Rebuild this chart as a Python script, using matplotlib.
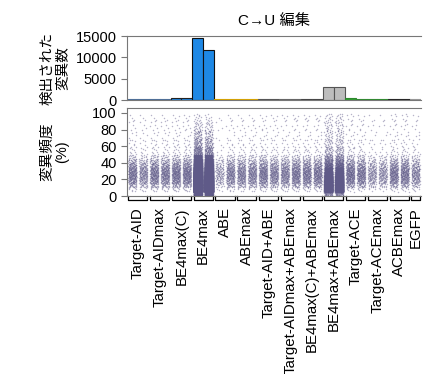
import numpy as np
import matplotlib
matplotlib.use("Agg")
import matplotlib.pyplot as plt

plt.rcParams['font.family'] = ['Liberation Sans', 'Noto Sans CJK JP', 'DejaVu Sans']

## Data
categories = ["Target-AID", "Target-AIDmax", "BE4max(C)", "BE4max", "ABE", "ABEmax",
              "Target-AID+ABE", "Target-AIDmax+ABEmax", "BE4max(C)+ABEmax",
              "BE4max+ABEmax", "Target-ACE", "Target-ACEmax", "ACBEmax", "EGFP"]
# number of detected mutations, two replicates per editor (EGFP only one)
counts = [[350, 250], [350, 330], [380, 380], [14600, 11800], [150, 300], [300, 300],
          [350, 300], [300, 350], [350, 350], [3000, 3000], [400, 350], [200, 200],
          [350, 350], [250]]
fill_colors = ["#1e88e5", "#1e88e5", "#1e88e5", "#1e88e5", "#f5b400", "#f5b400",
               "#bdbdbd", "#bdbdbd", "#bdbdbd", "#bdbdbd", "#2e9e2e", "#2e9e2e",
               "#2e9e2e", "#eeeeee"]
edge_colors = ["#4d6f99", "#4d6f99", "#222222", "#111111", "#d9a400", "#d9a400",
               "#555555", "#666666", "#444444", "#555555", "#2e8a2e", "#2e8a2e",
               "#222222", "#999999"]

## Mutation frequency profile (share of mutations per frequency bin, %)
freq_edges = [0, 5, 10, 15, 20, 25, 30, 35, 40, 45, 50, 60, 70, 80, 90, 100]
profile_typical = [0, 1.5, 7, 13, 16, 17, 15, 11, 7, 3.5, 2.5, 1.8, 1.3, 1.2, 1.4]
profile_be4max = [2, 19, 19, 17, 13, 10, 7, 4, 2.2, 1.2, 0.7, 0.4, 0.25, 0.15, 0.08]
profile_be4max_abe = [1.5, 20, 20, 17, 13, 8, 5, 3, 2, 1.3, 1.2, 0.8, 0.6, 0.5, 0.4]
profiles = {"BE4max": profile_be4max, "BE4max+ABEmax": profile_be4max_abe}


def halton(n, base):
    # radical inverse, used only to spread points inside a column
    out = np.zeros(n)
    idx = np.arange(1, n + 1)
    f = 1.0
    while np.any(idx > 0):
        f /= base
        out += f * (idx % base)
        idx //= base
    return out


## Positions of bars
xs, heights, fcs, ecs, prof = [], [], [], [], []
centers, spans = [], []
pos = 0
for cat, cs, fc, ec in zip(categories, counts, fill_colors, edge_colors):
    start = pos
    for c in cs:
        xs.append(pos)
        heights.append(c)
        fcs.append(fc)
        ecs.append(ec)
        prof.append(profiles.get(cat, profile_typical))
        pos += 1
    centers.append((start + pos - 1) / 2)
    spans.append((start - 0.5, pos - 0.5))

fig = plt.figure(figsize=(4.48, 3.74), dpi=100)
ax1 = fig.add_axes([127/448, 1 - 100/374, 294/448, 64/374])
ax2 = fig.add_axes([127/448, 1 - 196/374, 294/448, 88/374])

spine_col = "#777777"

## Top: counts
ax1.bar(xs, heights, width=1.0, color=fcs, edgecolor=ecs, linewidth=0.8)
ax1.set_xlim(-0.5, len(xs) - 0.5)
ax1.set_ylim(0, 15000)
ax1.set_yticks([0, 5000, 10000, 15000])
ax1.set_xticks([])
ax1.spines['right'].set_visible(False)
for s in ['left', 'top', 'bottom']:
    ax1.spines[s].set_color(spine_col)
ax1.tick_params(axis='y', labelsize=10.5, color=spine_col, length=4)
ax1.set_title("C→U 編集", fontsize=11, pad=8)

## Bottom: mutation frequency per replicate
for i, (x, n, p) in enumerate(zip(xs, heights, prof)):
    cdf = np.concatenate([[0], np.cumsum(p)]) / np.sum(p)
    q = halton(n + 7 * i, 2)[7 * i:]
    jit = halton(n + 7 * i, 3)[7 * i:]
    yy = np.interp(q, cdf, freq_edges)
    xx = x + (jit * 2 - 1) * 0.38
    ax2.scatter(xx, yy, s=1.1, color="#5f5a88", alpha=0.45, linewidths=0)

ax2.set_xlim(-0.5, len(xs) - 0.5)
ax2.set_ylim(0, 106)
ax2.set_yticks([0, 20, 40, 60, 80, 100])
ax2.spines['right'].set_visible(False)
for s in ['left', 'top', 'bottom']:
    ax2.spines[s].set_color(spine_col)
ax2.tick_params(axis='y', labelsize=10.5, color=spine_col, length=4)
ax2.set_xticks(centers)
ax2.set_xticklabels(categories, rotation=90, fontsize=10.8, va='top', ha='center')
ax2.tick_params(axis='x', length=0, pad=8)

## Group brackets under the axis
tr = ax2.get_xaxis_transform()
for a, b in spans:
    ax2.plot([a + 0.12, a + 0.12, b - 0.12, b - 0.12], [-0.005, -0.05, -0.05, -0.005],
             color="black", lw=0.9, transform=tr, clip_on=False)

fig.text(55/448, 1 - 68/374, "検出された\n変異数", rotation=90, ha='center', va='center',
         fontsize=10.5, multialignment='center', linespacing=1.1)
fig.text(55/448, 1 - 152/374, "変異頻度\n(%)", rotation=90, ha='center', va='center',
         fontsize=10.5, multialignment='center', linespacing=1.1)

fig.savefig("out.png", dpi=100)
